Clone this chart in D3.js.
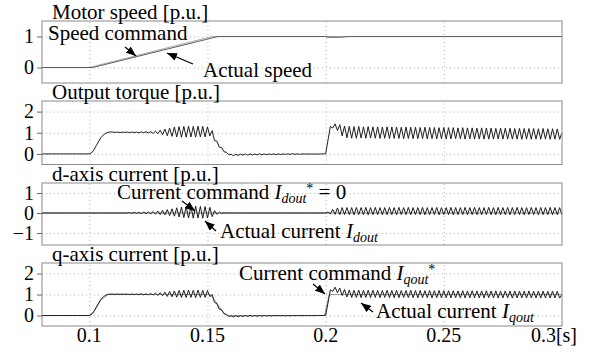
<!DOCTYPE html>
<html>
<head>
<meta charset="utf-8">
<script src="https://cdn.jsdelivr.net/npm/d3@7"></script>
<style>
  body { margin: 0; background: #fff; }
  svg { display: block; }
  .grid line { stroke: #b4b4b4; stroke-dasharray: 1,3; }
  .grid path { display: none; }
  .yaxis path { display: none; }
  .yaxis line { stroke: #666; }
</style>
</head>
<body>
<div id="chart"></div>
<script>
// time axis
const xTicks = [0.1, 0.15, 0.2, 0.25, 0.3];
const xTickLabels = ['0.1', '0.15', '0.2', '0.25', '0.3[s]'];

// sampled traces: one value per ms starting at t0
const t0 = 0.08, dt = 0.001;

// motor speed (break points)
const speedCmdT = [0.08, 0.1, 0.152, 0.3];
const speedCmdV = [0, 0, 1, 1];
const speedActT = [0.08, 0.1015, 0.1545, 0.2, 0.201, 0.206, 0.21, 0.3];
const speedActV = [0, 0, 1, 1, 0.975, 0.975, 1, 1];

// output torque
const torque = [
  0, 0, 0, 0, 0, 0, 0, 0, 0, 0,
  0, 0, 0, 0, 0, 0, 0, 0, 0, 0,
  0, 0.05, 0.2, 0.4, 0.6, 0.78, 0.9, 0.98, 1.02, 1.04,
  1.03, 1.02, 1.03, 1.01, 1.03, 1.02, 1.03, 1.01, 1.03, 1.01,
  1.03, 1.0, 1.04, 1.0, 1.05, 0.99, 1.05, 0.97, 1.08, 0.95,
  1.12, 0.9, 1.17, 0.86, 1.22, 0.83, 1.27, 0.8, 1.29, 0.79,
  1.3, 0.79, 1.31, 0.8, 1.3, 0.79, 1.31, 0.8, 1.3, 0.8,
  1.28, 0.85, 1.1, 0.62, 0.6, 0.32, 0.3, 0.1, 0.08, -0.04,
  -0.02, -0.08, -0.02, -0.07, -0.01, -0.06, 0, -0.06, 0, -0.05,
  0, -0.05, 0.01, -0.04, 0, -0.04, 0, -0.03, 0, -0.03,
  0, -0.03, 0, -0.02, 0, -0.02, 0.01, -0.02, 0, -0.02,
  0, -0.01, 0, -0.01, 0, -0.01, 0, -0.01, 0, 0,
  0, 0.65, 1.3, 1.22, 1.42, 1.1, 1.38, 0.85, 1.32, 0.76,
  1.3, 0.74, 1.29, 0.74, 1.3, 0.75, 1.28, 0.74, 1.29, 0.75,
  1.28, 0.74, 1.28, 0.73, 1.27, 0.74, 1.28, 0.73, 1.27, 0.73,
  1.27, 0.73, 1.26, 0.72, 1.27, 0.73, 1.26, 0.72, 1.26, 0.72,
  1.25, 0.72, 1.26, 0.71, 1.25, 0.72, 1.25, 0.71, 1.24, 0.72,
  1.25, 0.71, 1.24, 0.71, 1.24, 0.72, 1.23, 0.71, 1.24, 0.7,
  1.23, 0.71, 1.23, 0.7, 1.22, 0.71, 1.23, 0.7, 1.22, 0.7,
  1.22, 0.7, 1.21, 0.71, 1.22, 0.7, 1.21, 0.7, 1.21, 0.7,
  1.2, 0.7, 1.21, 0.69, 1.2, 0.7, 1.2, 0.69, 1.2, 0.7,
  1.19, 0.69, 1.2, 0.7, 1.19, 0.69, 1.19, 0.7, 1.18, 0.69,
  1.0
];

// d-axis current: command is zero, actual oscillates
const idCmdT = [0.08, 0.3];
const idCmdV = [0, 0];
const idAct = [
  0, 0, 0, 0, 0, 0, 0, 0, 0, 0,
  0, 0, 0, 0, 0, 0, 0, 0, 0, 0,
  0, 0, 0, 0, 0, 0, 0, 0, 0, 0,
  0, 0, 0, 0, 0, 0, 0, 0.02, -0.02, 0.03,
  -0.02, 0.03, -0.03, 0.04, -0.03, 0.05, -0.04, 0.07, -0.06, 0.1,
  -0.08, 0.13, -0.1, 0.17, -0.13, 0.21, -0.16, 0.26, -0.2, 0.3,
  -0.23, 0.32, -0.25, 0.33, -0.26, 0.34, -0.25, 0.33, -0.26, 0.32,
  -0.24, 0.28, -0.18, 0.12, -0.07, 0.04, -0.02, 0.01, 0, 0,
  0, 0, 0, 0, 0, 0, 0, 0, 0, 0,
  0, 0, 0, 0, 0, 0, 0, 0, 0, 0,
  0, 0, 0, 0, 0, 0, 0, 0, 0, 0,
  0, 0, 0, 0, 0, 0, 0, 0, 0, 0,
  0, 0.05, -0.05, 0.18, -0.07, 0.25, -0.08, 0.27, -0.08, 0.27,
  -0.08, 0.27, -0.09, 0.28, -0.08, 0.27, -0.08, 0.28, -0.09, 0.27,
  -0.08, 0.28, -0.08, 0.27, -0.09, 0.27, -0.08, 0.28, -0.08, 0.27,
  -0.09, 0.28, -0.08, 0.27, -0.08, 0.28, -0.09, 0.27, -0.08, 0.27,
  -0.08, 0.28, -0.09, 0.27, -0.08, 0.27, -0.08, 0.28, -0.09, 0.27,
  -0.08, 0.27, -0.08, 0.28, -0.09, 0.27, -0.08, 0.27, -0.08, 0.28,
  -0.09, 0.27, -0.08, 0.28, -0.08, 0.27, -0.09, 0.27, -0.08, 0.28,
  -0.08, 0.27, -0.09, 0.28, -0.08, 0.27, -0.08, 0.28, -0.09, 0.27,
  -0.08, 0.28, -0.08, 0.27, -0.09, 0.27, -0.08, 0.28, -0.08, 0.27,
  -0.09, 0.28, -0.08, 0.27, -0.08, 0.28, -0.09, 0.27, -0.08, 0.27,
  -0.08
];

// q-axis current
const iqCmdT = [0.08, 0.1, 0.102, 0.105, 0.108, 0.151, 0.153, 0.156, 0.158, 0.1995, 0.2015, 0.3];
const iqCmdV = [0, 0, 0.2, 0.75, 1.0, 1.0, 0.75, 0.25, 0, 0, 1.0, 1.0];
const iqAct = [
  0, 0, 0, 0, 0, 0, 0, 0, 0, 0,
  0, 0, 0, 0, 0, 0, 0, 0, 0, 0,
  0, 0.05, 0.2, 0.4, 0.6, 0.78, 0.9, 0.97, 1.01, 1.02,
  1.02, 1.01, 1.02, 1.01, 1.02, 1.01, 1.02, 1.0, 1.02, 1.0,
  1.02, 1.0, 1.03, 0.99, 1.03, 0.99, 1.04, 0.98, 1.06, 0.96,
  1.08, 0.94, 1.11, 0.91, 1.14, 0.89, 1.17, 0.87, 1.19, 0.86,
  1.2, 0.86, 1.21, 0.86, 1.2, 0.85, 1.21, 0.86, 1.2, 0.86,
  1.19, 0.9, 1.0, 0.62, 0.56, 0.3, 0.27, 0.08, 0.06, -0.04,
  -0.02, -0.07, -0.01, -0.06, -0.01, -0.05, 0, -0.05, 0, -0.04,
  0, -0.04, 0, -0.03, 0, -0.03, 0, -0.03, 0, -0.02,
  0, -0.02, 0, -0.02, 0, -0.02, 0, -0.01, 0, -0.01,
  0, -0.01, 0, -0.01, 0, -0.01, 0, 0, 0, 0,
  0, 0.6, 1.22, 1.15, 1.35, 1.08, 1.3, 0.95, 1.24, 0.88,
  1.21, 0.86, 1.2, 0.86, 1.21, 0.85, 1.2, 0.86, 1.2, 0.85,
  1.2, 0.86, 1.2, 0.85, 1.19, 0.86, 1.2, 0.85, 1.19, 0.85,
  1.2, 0.85, 1.19, 0.86, 1.19, 0.85, 1.2, 0.85, 1.19, 0.84,
  1.19, 0.85, 1.18, 0.85, 1.19, 0.84, 1.18, 0.85, 1.19, 0.84,
  1.18, 0.85, 1.18, 0.84, 1.18, 0.85, 1.17, 0.84, 1.18, 0.84,
  1.17, 0.84, 1.18, 0.85, 1.17, 0.84, 1.17, 0.84, 1.18, 0.85,
  1.17, 0.84, 1.17, 0.83, 1.16, 0.84, 1.17, 0.84, 1.16, 0.83,
  1.17, 0.84, 1.16, 0.84, 1.16, 0.83, 1.17, 0.84, 1.16, 0.84,
  1.16, 0.83, 1.16, 0.84, 1.15, 0.83, 1.16, 0.84, 1.15, 0.83,
  1.0
];

const sampled = vals => vals.map((v, i) => [t0 + i * dt, v]);
const paired = (ts, vs) => ts.map((t, i) => [t, vs[i]]);

const FONT = "'Liberation Serif'";

// panel layout (pixel frame + value domain)
const panels = [
  { title: 'Motor speed [p.u.]', top: 21, bottom: 83, domain: [-0.5, 1.5], yTicks: [0, 1],
    series: [
      { pts: paired(speedCmdT, speedCmdV), color: '#a8a8a8' },
      { pts: paired(speedActT, speedActV), color: '#606060' }
    ] },
  { title: 'Output torque [p.u.]', top: 101, bottom: 164.5, domain: [-0.5, 2.5], yTicks: [0, 1, 2],
    series: [ { pts: sampled(torque), color: '#1e1e1e' } ] },
  { title: 'd-axis current [p.u.]', top: 183, bottom: 245, domain: [-1.6, 1.5], yTicks: [-1, 0, 1],
    series: [
      { pts: paired(idCmdT, idCmdV), color: '#8c8c8c' },
      { pts: sampled(idAct), color: '#1e1e1e' }
    ] },
  { title: 'q-axis current [p.u.]', top: 263, bottom: 326, domain: [-0.5, 2.5], yTicks: [0, 1, 2],
    series: [
      { pts: paired(iqCmdT, iqCmdV), color: '#9a9a9a' },
      { pts: sampled(iqAct), color: '#1e1e1e' }
    ] }
];

const W = 596, H = 356;
const left = 42, right = 562;

const svg = d3.select('#chart').append('svg')
  .attr('width', W)
  .attr('height', H);

svg.append('rect').attr('width', W).attr('height', H).attr('fill', '#fff');

// arrow head marker
svg.append('defs').append('marker')
  .attr('id', 'head')
  .attr('markerUnits', 'userSpaceOnUse')
  .attr('viewBox', '0 0 10 8')
  .attr('refX', 10).attr('refY', 4)
  .attr('markerWidth', 10).attr('markerHeight', 8)
  .attr('orient', 'auto')
  .append('path')
  .attr('d', 'M0,0 L10,4 L0,8 Z')
  .attr('fill', '#000');

const x = d3.scaleLinear().domain([0.08, 0.3]).range([left, right]);

panels.forEach(p => {
  const y = d3.scaleLinear().domain(p.domain).range([p.bottom, p.top]);
  const g = svg.append('g');

  // dotted grid
  g.append('g')
    .attr('class', 'grid')
    .attr('transform', `translate(${left},0)`)
    .call(d3.axisLeft(y).tickValues(p.yTicks).tickSize(-(right - left)).tickFormat(''));
  g.append('g')
    .attr('class', 'grid')
    .attr('transform', `translate(0,${p.bottom})`)
    .call(d3.axisBottom(x).tickValues(xTicks.slice(0, 4)).tickSize(-(p.bottom - p.top)).tickFormat(''));

  // traces
  const line = d3.line().x(d => x(d[0])).y(d => y(d[1]));
  p.series.forEach(s => {
    g.append('path')
      .datum(s.pts)
      .attr('d', line)
      .attr('fill', 'none')
      .attr('stroke', s.color)
      .attr('stroke-width', 1);
  });

  // frame
  g.append('rect')
    .attr('x', left).attr('y', p.top)
    .attr('width', right - left).attr('height', p.bottom - p.top)
    .attr('fill', 'none')
    .attr('stroke', '#8a8a8a');

  // y axis ticks and labels
  const ya = g.append('g')
    .attr('class', 'yaxis')
    .attr('transform', `translate(${left},0)`)
    .call(d3.axisLeft(y).tickValues(p.yTicks).tickSize(5).tickPadding(3).tickFormat(d3.format('d')));
  ya.attr('font-family', FONT).attr('font-size', 20);
  ya.selectAll('text').attr('fill', '#000');

  // panel title
  g.append('text')
    .attr('x', 52)
    .attr('y', p.top - 2.5)
    .attr('font-family', FONT)
    .attr('font-size', 21)
    .text(p.title);
});

// x tick labels under the last panel
svg.append('g').selectAll('text')
  .data(xTicks)
  .enter()
  .append('text')
  .attr('x', (d, i) => i === xTicks.length - 1 ? 577 : x(d))
  .attr('y', 342)
  .attr('text-anchor', (d, i) => i === xTicks.length - 1 ? 'end' : 'middle')
  .attr('font-family', FONT)
  .attr('font-size', 20)
  .text((d, i) => xTickLabels[i]);

// annotations
const notes = [
  { x: 48, y: 40, parts: [{ s: 'Speed command' }] },
  { x: 203, y: 77, parts: [{ s: 'Actual speed' }] },
  { x: 117, y: 199, parts: [{ s: 'Current command ' }, { s: 'I', it: true }, { s: 'dout', it: true, sub: true }, { s: '*', sup: true }, { s: ' = 0' }] },
  { x: 220, y: 238, parts: [{ s: 'Actual current ' }, { s: 'I', it: true }, { s: 'dout', it: true, sub: true }] },
  { x: 239, y: 280, parts: [{ s: 'Current command ' }, { s: 'I', it: true }, { s: 'qout', it: true, sub: true }, { s: '*', sup: true }] },
  { x: 376, y: 318, parts: [{ s: 'Actual current ' }, { s: 'I', it: true }, { s: 'qout', it: true, sub: true }] }
];

notes.forEach(n => {
  const t = svg.append('text')
    .attr('x', n.x).attr('y', n.y)
    .attr('font-family', FONT)
    .attr('font-size', 21)
    .style('white-space', 'pre');
  let shift = 0;
  n.parts.forEach(part => {
    const target = part.sub ? 4 : part.sup ? -6 : 0;
    t.append('tspan')
      .attr('dy', target - shift)
      .attr('font-size', part.sub || part.sup ? 14 : 21)
      .attr('font-style', part.it ? 'italic' : 'normal')
      .text(part.s);
    shift = target;
  });
});

const arrows = [
  [125, 47, 136, 56],
  [193, 64, 167, 53],
  [182, 201, 195, 211],
  [216, 231, 205, 221],
  [313, 284, 325, 294],
  [373, 312, 361, 303]
];

svg.append('g').selectAll('line')
  .data(arrows)
  .enter()
  .append('line')
  .attr('x1', d => d[0]).attr('y1', d => d[1])
  .attr('x2', d => d[2]).attr('y2', d => d[3])
  .attr('stroke', '#000')
  .attr('stroke-width', 1.2)
  .attr('marker-end', 'url(#head)');
</script>
</body>
</html>
